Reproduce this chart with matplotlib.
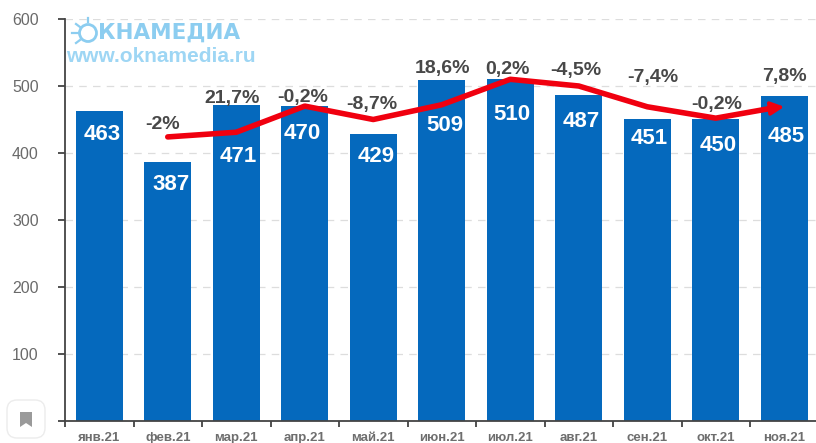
import matplotlib
matplotlib.use('Agg')
import matplotlib.pyplot as plt
from matplotlib.patches import FancyBboxPatch, Polygon, Circle

months = ['янв.21', 'фев.21', 'мар.21', 'апр.21', 'май.21', 'июн.21', 'июл.21', 'авг.21', 'сен.21', 'окт.21', 'ноя.21']
values = [463, 387, 471, 470, 429, 509, 510, 487, 451, 450, 485]
pct_labels = ['', '-2%', '21,7%', '-0,2%', '-8,7%', '18,6%', '0,2%', '-4,5%', '-7,4%', '-0,2%', '7,8%']
# hand drawn red line
trend = [None, 424, 431, 470, 450, 472, 510, 500, 469, 452, 469]

# label offsets in px from the top centre of the bar
value_off = [-24, -23, -51, -27, -23, -46, -35, -27, -20, -26, -40]
value_dx = [3, 3, 2, -3, 3, 3, 2, 2, 2, 2, 2]
pct_off = [0, 37, 7, 9, 29, 11, 10, 24, 41, 15, 20]
pct_dx = [0, -5, -4, -2, -1, 1, -3, -3, 6, 1, 0]

plt.rcParams['font.family'] = ['Liberation Sans', 'DejaVu Sans']

W, H = 816, 443
fig = plt.figure(figsize=(W / 100, H / 100), dpi=100)
# axes runs a little past the right edge like in the screenshot
ax = fig.add_axes([65 / W, (H - 421) / H, 753.5 / W, 402 / H])

x = list(range(len(values)))
ax.set_axisbelow(True)
ax.bar(x, values, width=0.68, color='#0569bd')
ax.set_xlim(-0.5, 10.5)
ax.set_ylim(0, 600)
ax.set_yticks(range(0, 601, 100))
ax.set_yticklabels(['', '100', '200', '300', '400', '500', '600'], fontsize=11.5, color='#6a6a6a')
ax.yaxis.grid(True, color='#dddddd', linestyle=(0, (6, 5)), linewidth=0.9)

ax.set_xticks([i - 0.5 for i in x], minor=False)
ax.set_xticklabels([])
ax.set_xticks(x, minor=True)
ax.set_xticklabels(months, minor=True, fontsize=9.5, fontweight='bold', color='#6e6e6e')
ax.tick_params(axis='x', which='minor', length=0, pad=8)
ax.tick_params(axis='x', which='major', length=4, width=1.2, color='#333333', direction='out')
ax.tick_params(axis='y', length=5, width=1.2, color='#333333', direction='out', pad=14)

for s in ['top', 'right']:
    ax.spines[s].set_visible(False)
for s in ['left', 'bottom']:
    ax.spines[s].set_color('#444444')
    ax.spines[s].set_linewidth(1.3)

# red line + arrow
tx = [i for i, t in zip(x, trend) if t is not None]
ty = [t for t in trend if t is not None]
ax.plot(tx[:-1] + [tx[-1] - 0.12], ty[:-1] + [ty[-1] - 1], color='#f0000f', linewidth=4, solid_joinstyle='round',
        solid_capstyle='round', zorder=4)
ax.annotate('', xy=(tx[-1], ty[-1]), xytext=(tx[-1] - 0.25, ty[-1] - 3), zorder=5,
            arrowprops=dict(arrowstyle='-|>', color='#f0000f', lw=2.5, mutation_scale=20, shrinkA=0, shrinkB=0))

px = 72 / 100
for i in x:
    ax.annotate(str(values[i]), (i, values[i]), xytext=(value_dx[i] * px, value_off[i] * px), textcoords='offset points',
                ha='center', va='center', fontsize=16, fontweight='bold', color='white', zorder=6)
    if pct_labels[i]:
        ax.annotate(pct_labels[i], (i, values[i]), xytext=(pct_dx[i] * px, pct_off[i] * px), textcoords='offset points',
                    ha='center', va='center', fontsize=14, fontweight='bold', color='#484848', zorder=6)

# logo
fig.text(98 / W, 1 - 33 / H, 'КНАМЕДИА', fontsize=15.5, fontweight='bold', family='DejaVu Sans', color='#8ccdf0',
         va='center', ha='left')
fig.text(66 / W, 1 - 57 / H, 'www.oknamedia.ru', fontsize=15, fontweight='bold', color='#9ed6f4', va='center', ha='left')
bg = fig.add_axes([0, 0, 1, 1], facecolor='none', zorder=10)
bg.set_xlim(0, W)
bg.set_ylim(H, 0)
bg.axis('off')
bg.add_patch(Circle((88, 33), 8.5, fill=False, ec='#8ccdf0', lw=2))
bg.plot([72, 78], [33, 33], color='#8ccdf0', lw=1.6)
bg.plot([76, 80], [24, 27], color='#8ccdf0', lw=1.6)
bg.plot([76, 80], [43, 40], color='#8ccdf0', lw=1.6)
bg.plot([88, 88], [18, 22], color='#8ccdf0', lw=1.6)

# bookmark button of the page
bg.add_patch(FancyBboxPatch((7, 400), 38, 38, boxstyle='round,pad=0,rounding_size=10', fc='white', ec='#ececec', lw=1,
                            mutation_aspect=1))
bg.add_patch(Polygon([(20, 412), (32, 412), (32, 427), (26, 423), (20, 427)], closed=True, fc='#9a9a9a', ec='none'))

fig.savefig('out.png', dpi=100)
